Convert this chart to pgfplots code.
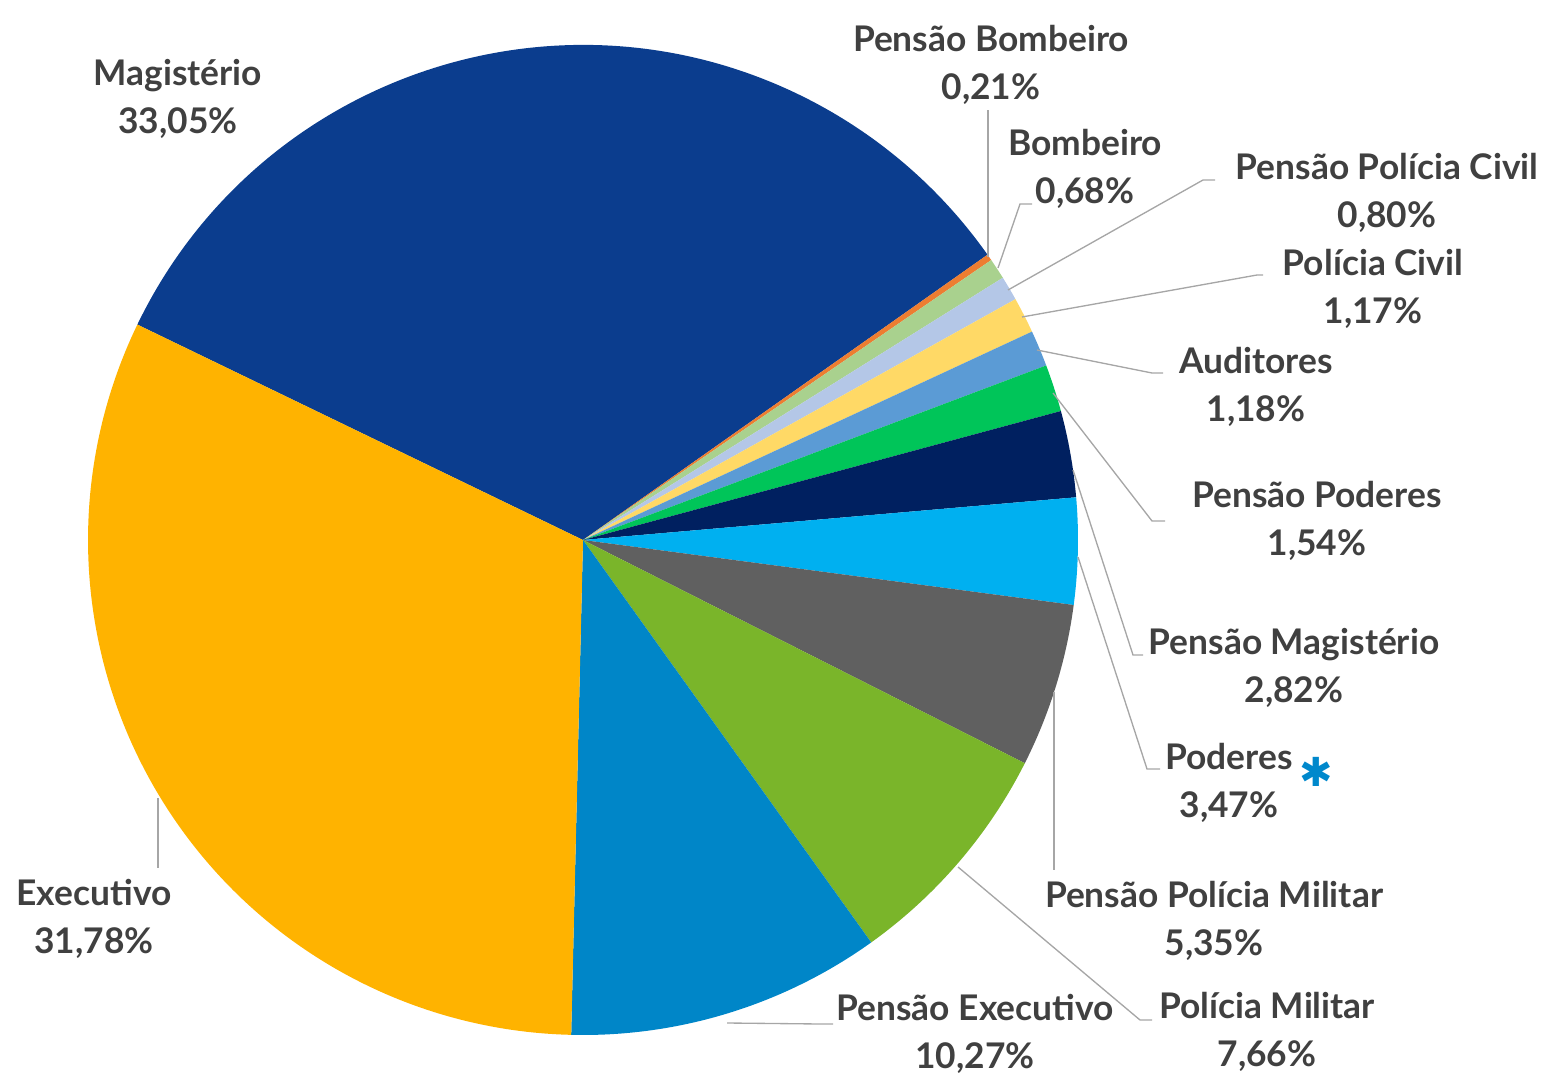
\documentclass[border=0pt]{standalone}
\usepackage{pgfplots}
\usepackage{pgfplotstable}
\pgfplotsset{compat=1.18}
\usepackage{fontspec}
\setmainfont{Lato}
\newfontfamily\dejavu{DejaVu Sans}
\definecolor{cMag}{HTML}{0B3D8E}
\definecolor{cPBomb}{HTML}{ED7D31}
\definecolor{cBomb}{HTML}{A9D18E}
\definecolor{cPPC}{HTML}{B4C7E7}
\definecolor{cPC}{HTML}{FFD966}
\definecolor{cAud}{HTML}{5B9BD5}
\definecolor{cPPod}{HTML}{00C559}
\definecolor{cPMag}{HTML}{002060}
\definecolor{cPod}{HTML}{00B0F0}
\definecolor{cPPM}{HTML}{606060}
\definecolor{cPM}{HTML}{7AB52A}
\definecolor{cPExec}{HTML}{0086C8}
\definecolor{cExec}{HTML}{FFB300}
\definecolor{txt}{HTML}{404040}
\definecolor{lead}{HTML}{A6A6A6}
\definecolor{star}{HTML}{0088CC}

% slices in clockwise order, starting at 154.2 degrees
\pgfplotstableread[col sep=comma]{
label,value,color,lx,ly
Magistério,33.05,cMag,178,99
Pensão Bombeiro,0.21,cPBomb,991,65
Bombeiro,0.68,cBomb,1085,169
Pensão Polícia Civil,0.80,cPPC,1387,193
Polícia Civil,1.17,cPC,1373,289
Auditores,1.18,cAud,1256,387
Pensão Poderes,1.54,cPPod,1317,521
Pensão Magistério,2.82,cPMag,1294,668
Poderes,3.47,cPod,1229,783
Pensão Polícia Militar,5.35,cPPM,1214,921
Polícia Militar,7.66,cPM,1267,1032
Pensão Executivo,10.27,cPExec,975,1034
Executivo,31.78,cExec,94,919
}\piedata

\begin{document}
\begin{tikzpicture}
\begin{axis}[
  scale only axis, width=462.3pt, height=323.1pt,
  xmin=0, xmax=1541, ymin=0, ymax=1077, y dir=reverse,
  hide axis, clip=false,
]
\pgfplotstablegetrowsof{\piedata}
\pgfmathtruncatemacro\lastrow{\pgfplotsretval-1}
% total
\def\total{0}
\pgfplotsforeachungrouped \i in {0,...,\lastrow}{%
  \pgfplotstablegetelem{\i}{value}\of\piedata
  \pgfmathsetmacro\total{\total+\pgfplotsretval}%
}
\def\startang{154.2}
\pgfplotsforeachungrouped \i in {0,...,\lastrow}{%
  \pgfplotstablegetelem{\i}{value}\of\piedata
  \let\val\pgfplotsretval
  \pgfmathsetmacro\endang{\startang-360*\val/\total}%
  \pgfplotstablegetelem{\i}{color}\of\piedata
  \let\col\pgfplotsretval
  \pgfplotstablegetelem{\i}{label}\of\piedata
  \let\lab\pgfplotsretval
  \pgfplotstablegetelem{\i}{lx}\of\piedata
  \let\lx\pgfplotsretval
  \pgfplotstablegetelem{\i}{ly}\of\piedata
  \let\ly\pgfplotsretval
  \edef\temp{\noexpand\fill[\col] (axis cs:583,540) -- ++(\startang:148.5pt) arc[start angle=\startang,end angle=\endang,radius=148.5pt] -- cycle;
    \noexpand\node[align=center,text=txt,font=\noexpand\bfseries\noexpand\fontsize{10.6pt}{14.4pt}\noexpand\selectfont] at (axis cs:\lx,\ly) {\lab\noexpand\\\noexpand\pgfmathprintnumber[fixed,fixed zerofill,precision=2,use comma,assume math mode=true]{\val}\noexpand\%};}%
  \temp
  \let\startang\endang
}
% leader lines
\begin{scope}[draw=lead, line width=0.4pt]
\draw (axis cs:988,257) -- (axis cs:988,110);
\draw (axis cs:998,268) -- (axis cs:1020,204) -- (axis cs:1032,204);
\draw (axis cs:1008,290) -- (axis cs:1203,180) -- (axis cs:1215,180);
\draw (axis cs:1022,317) -- (axis cs:1257,275) -- (axis cs:1263,275);
\draw (axis cs:1037,350) -- (axis cs:1152,373) -- (axis cs:1163,373);
\draw (axis cs:1053,393) -- (axis cs:1152,521) -- (axis cs:1165,521);
\draw (axis cs:1073,470) -- (axis cs:1133,655) -- (axis cs:1143,655);
\draw (axis cs:1078,557) -- (axis cs:1147,769) -- (axis cs:1160,769);
\draw (axis cs:1054,692) -- (axis cs:1054,870);
\draw (axis cs:958,867) -- (axis cs:1140,1020) -- (axis cs:1152,1020);
\draw (axis cs:727,1023) -- (axis cs:820,1024) -- (axis cs:833,1024);
\draw (axis cs:158,798) -- (axis cs:158,868);
\end{scope}
\node[text=star, font=\dejavu\fontsize{12pt}{14pt}\selectfont] at (axis cs:1316,772) {✱};
\end{axis}
\pgfresetboundingbox
\path[use as bounding box] (current axis.south west) rectangle (current axis.north east);
\end{tikzpicture}
\end{document}
